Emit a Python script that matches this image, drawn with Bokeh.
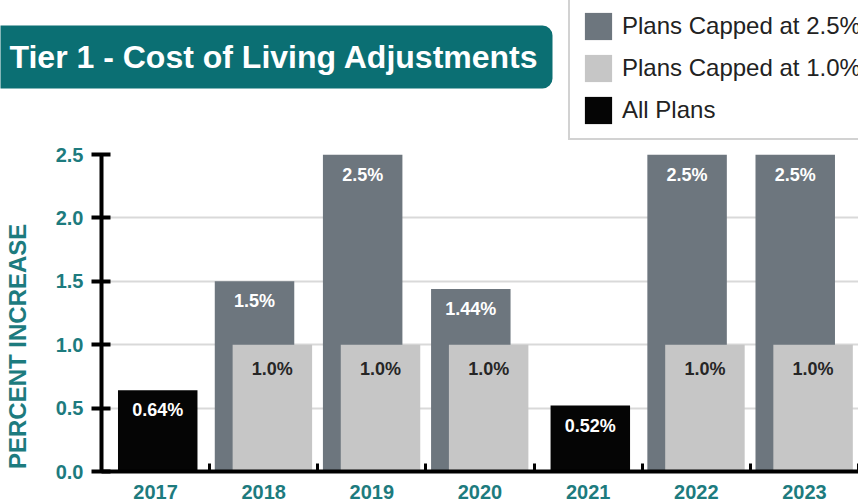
from bokeh.plotting import figure
from bokeh.layouts import column
from bokeh.models import (FixedTicker, Label, BoxAnnotation, ColumnDataSource,
                          Legend, LegendItem, NumeralTickFormatter)
from bokeh.core.properties import value
from bokeh.embed import file_html
from bokeh.resources import INLINE

# ---------------- data ----------------
years = ["2017", "2018", "2019", "2020", "2021", "2022", "2023"]
capped_25 = [None, 1.5, 2.5, 1.44, None, 2.5, 2.5]
capped_10 = [None, 1.0, 1.0, 1.0, None, 1.0, 1.0]
all_plans = [0.64, None, None, None, 0.52, None, None]
y_ticks = [0.0, 0.5, 1.0, 1.5, 2.0, 2.5]
series_names = ["Plans Capped at 2.5%", "Plans Capped at 1.0%", "All Plans"]
title_text = "Tier 1 - Cost of Living Adjustments"
y_title = "PERCENT INCREASE"

# ---------------- style ----------------
DARK = "#6d767e"
LIGHT = "#c6c6c6"
BLACK = "#050505"
TEAL = "#0b6f73"
TEAL_TXT = "#1d7b7e"
FONT = "Liberation Sans"
BAR_W = 0.735
OFF_DARK, OFF_LIGHT, OFF_BLACK = 0.415, 0.58, 0.52
W = 858
HEADER_H = 143
CHART_H = 502 - HEADER_H

# ---------------- header (title box + legend) ----------------
h = figure(width=W, height=HEADER_H, x_range=(0, W), y_range=(HEADER_H, 0),
           output_backend="svg", toolbar_location=None,
           x_axis_location=None, y_axis_location=None,
           min_border=0, min_border_left=0, min_border_right=0,
           min_border_top=0, min_border_bottom=0)
h.frame_align = False
h.outline_line_color = None
h.grid.visible = False
h.background_fill_color = "white"
h.border_fill_color = "white"

h.add_layout(BoxAnnotation(left=-20, right=552, top=25, bottom=88,
                           fill_color=TEAL, fill_alpha=1.0, line_color=None,
                           border_radius=10))
h.add_layout(Label(x=9, y=56, text=title_text, text_font=FONT,
                   text_font_style="bold", text_font_size="32px",
                   text_color="white", text_baseline="middle"))

# legend proxies (zero-height, outside the visible range)
lr = [h.vbar(x=[-100], top=[0], bottom=0, width=1, fill_color=c, line_color=None)
      for c in (DARK, LIGHT, BLACK)]
legend = Legend(items=[LegendItem(label=n, renderers=[r])
                       for n, r in zip(series_names, lr)],
                location=(568, 3), orientation="vertical",
                glyph_width=34, glyph_height=34, label_height=34,
                spacing=8, padding=11, margin=0, label_standoff=7,
                label_text_font=FONT, label_text_font_size="24px",
                label_text_color="#222222",
                border_line_color="#a6a6a6", border_line_width=2,
                background_fill_color="white", background_fill_alpha=1.0)
h.add_layout(legend, "center")

# ---------------- chart ----------------
p = figure(width=W, height=CHART_H, x_range=(0, len(years)), y_range=(0, 2.5),
           output_backend="svg", toolbar_location=None,
           min_border_left=100, min_border_right=0,
           min_border_top=11, min_border_bottom=31)
p.frame_align = False
p.outline_line_color = None
p.background_fill_color = "white"
p.border_fill_color = "white"


def make_source(vals, off):
    xs = [i + off for i, v in enumerate(vals) if v is not None]
    ys = [v for v in vals if v is not None]
    return ColumnDataSource(dict(x=xs, top=ys, label=[f"{v}%" for v in ys]))


s_dark = make_source(capped_25, OFF_DARK)
s_light = make_source(capped_10, OFF_LIGHT)
s_black = make_source(all_plans, OFF_BLACK)

p.vbar(x="x", top="top", bottom=0, width=BAR_W, source=s_dark,
       fill_color=DARK, line_color=None)
p.vbar(x="x", top="top", bottom=0, width=BAR_W, source=s_light,
       fill_color=LIGHT, line_color=None)
p.vbar(x="x", top="top", bottom=0, width=BAR_W, source=s_black,
       fill_color=BLACK, line_color=None)

for s, col, off in ((s_dark, "white", 20), (s_light, "#262626", 24),
                    (s_black, "white", 20)):
    p.text(x="x", y="top", text="label", source=s, text_align="center",
           text_baseline="middle", y_offset=off, text_font=value(FONT),
           text_font_style="bold", text_font_size="18px", text_color=col)

p.xgrid.grid_line_color = None
p.ygrid.grid_line_color = "#d9d9d9"
p.ygrid.grid_line_width = 2

ya = p.yaxis[0]
ya.ticker = FixedTicker(ticks=y_ticks)
ya.formatter = NumeralTickFormatter(format="0.0")
ya.axis_line_width = 4
ya.axis_line_color = "black"
ya.major_tick_line_width = 4
ya.major_tick_line_color = "black"
ya.major_tick_in = 9
ya.major_tick_out = 10
ya.minor_tick_line_color = None
ya.major_label_standoff = 8
ya.major_label_text_font = FONT
ya.major_label_text_font_style = "bold"
ya.major_label_text_font_size = "20px"
ya.major_label_text_color = TEAL_TXT
ya.axis_label = y_title + "\u00a0" * 10
ya.axis_label_text_font = FONT
ya.axis_label_text_font_style = "bold"
ya.axis_label_text_font_size = "24px"
ya.axis_label_text_color = TEAL_TXT
ya.axis_label_standoff = 22

xa = p.xaxis[0]
xa.ticker = FixedTicker(ticks=[i + 0.5 for i in range(len(years))],
                        minor_ticks=[i + 1 for i in range(len(years))])
xa.major_label_overrides = {i + 0.5: y for i, y in enumerate(years)}
xa.axis_line_width = 4
xa.axis_line_color = "black"
xa.major_tick_line_color = None
xa.major_tick_in = 0
xa.major_tick_out = 0
xa.minor_tick_in = 8
xa.minor_tick_out = 0
xa.minor_tick_line_width = 3
xa.minor_tick_line_color = "black"
xa.major_label_standoff = 13
xa.major_label_text_font = FONT
xa.major_label_text_font_style = "bold"
xa.major_label_text_font_size = "20px"
xa.major_label_text_color = TEAL_TXT

layout = column(h, p, spacing=0)
open("out.html", "w").write(file_html(layout, INLINE))
